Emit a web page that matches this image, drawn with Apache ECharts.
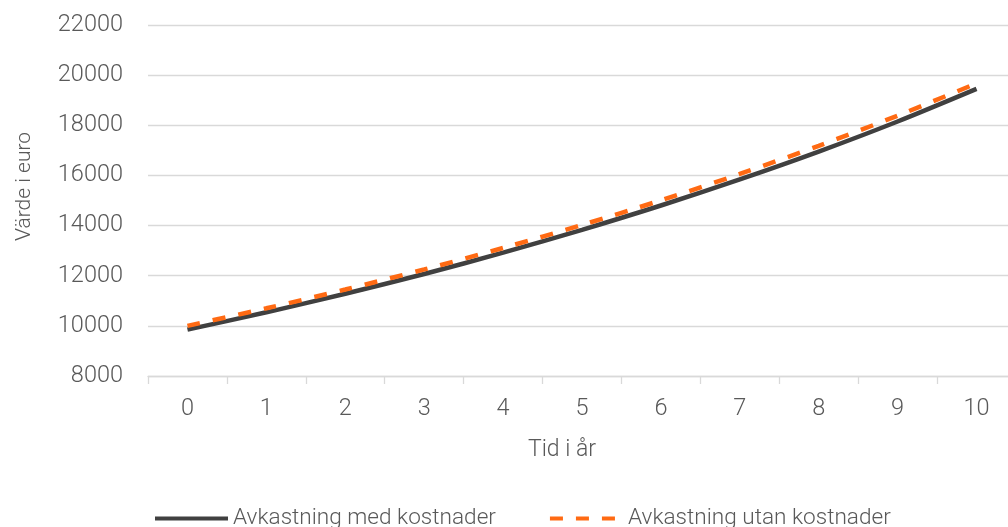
<!DOCTYPE html>
<html>
<head>
<meta charset="utf-8">
<script src="https://cdn.jsdelivr.net/npm/echarts@6/dist/echarts.min.js"></script>
<style>html,body{margin:0;padding:0;background:#fff}#c{width:1008px;height:527px}</style>
</head>
<body>
<div id="c"></div>
<script>
const categories = ['0','1','2','3','4','5','6','7','8','9','10'];
const medKostnader = [9850, 10540, 11280, 12070, 12920, 13830, 14800, 15840, 16950, 18150, 19450];
const utanKostnader = [10000, 10700, 11449, 12250, 13108, 14026, 15007, 16058, 17182, 18385, 19672];
const seriesNames = ['Avkastning med kostnader', 'Avkastning utan kostnader'];
const yTicks = {min: 8000, max: 22000, interval: 2000};
const xName = 'Tid i år';
const yName = 'Värde i euro';

const FONT = 'Roboto';
const FW = 300;
const TXT = '#595959';
const DARK = '#404040';
const ORANGE = '#ff6a13';
const DASH = [13, 13];
const chart = echarts.init(document.getElementById('c'));
chart.setOption({
  animation: false,
  textStyle: {fontFamily: FONT, fontWeight: FW},
  grid: {left: 148, top: 25, width: 868, height: 351, outerBoundsMode: 'none', containLabel: false},
  legend: {
    left: 153, top: 507, padding: 0,
    itemWidth: 73, itemHeight: 20, itemGap: 52,
    textStyle: {fontFamily: FONT, fontWeight: FW, fontSize: 22.6, color: TXT},
    itemStyle: {opacity: 0},
    data: [
      {name: seriesNames[0], lineStyle: {color: DARK, width: 4, type: 'solid'}},
      {name: seriesNames[1], lineStyle: {color: ORANGE, width: 4, type: DASH}}
    ]
  },
  xAxis: {
    type: 'category',
    data: categories,
    boundaryGap: true,
    name: xName,
    nameLocation: 'middle',
    nameGap: 63,
    nameTextStyle: {fontFamily: FONT, fontWeight: FW, fontSize: 23, color: TXT, padding: [0, 40, 0, 0]},
    axisLine: {lineStyle: {color: '#d9d9d9', width: 1.3}},
    axisTick: {show: true, length: 8, alignWithLabel: false, lineStyle: {color: '#d9d9d9', width: 1.3}},
    axisLabel: {fontFamily: FONT, fontWeight: FW, fontSize: 23.5, color: TXT, margin: 21}
  },
  yAxis: {
    type: 'value',
    min: yTicks.min, max: yTicks.max, interval: yTicks.interval,
    name: yName,
    nameLocation: 'middle',
    nameGap: 113,
    nameTextStyle: {fontFamily: FONT, fontWeight: FW, fontSize: 21, color: TXT, padding: [0, 0, 0, 28]},
    axisLine: {show: false},
    axisTick: {show: false},
    splitLine: {lineStyle: {color: '#d9d9d9', width: 1.3}},
    axisLabel: {fontFamily: FONT, fontWeight: FW, fontSize: 23.5, color: TXT, margin: 25, formatter: v => String(v)}
  },
  series: [
    {
      name: seriesNames[0], type: 'line', data: medKostnader,
      smooth: 0.3, symbol: 'none',
      lineStyle: {color: DARK, width: 4.5},
      itemStyle: {color: DARK}
    },
    {
      name: seriesNames[1], type: 'line', data: utanKostnader,
      smooth: 0.3, symbol: 'none',
      lineStyle: {color: ORANGE, width: 4.5, type: DASH},
      itemStyle: {color: ORANGE}
    }
  ]
});
</script>
</body>
</html>
